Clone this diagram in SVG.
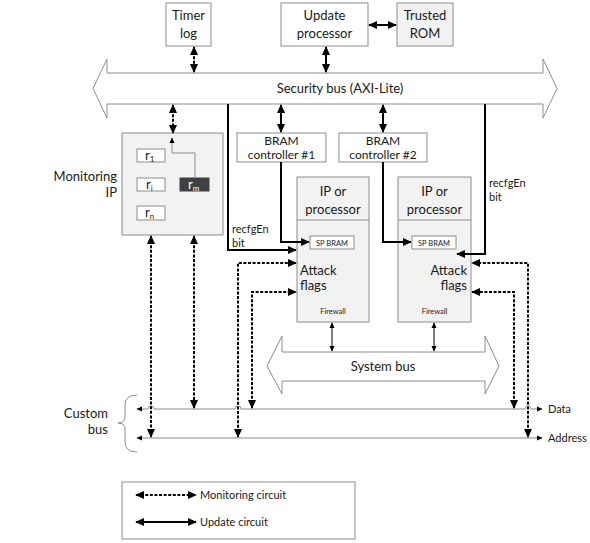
<svg xmlns="http://www.w3.org/2000/svg" width="590" height="543" viewBox="0 0 590 543">
<style>
text{font-family:Lato,"Open Sans","Liberation Sans",sans-serif;fill:#1a1a1a}
.t{font-size:13px}
.b{font-size:12px}
.s{font-size:11px}
.xs{font-size:7.5px}
.box{fill:#fff;stroke:#8c8c8c;stroke-width:1}
.gbox{fill:#f2f2f2;stroke:#8c8c8c;stroke-width:1}
.bus{fill:#fff;stroke:#8c8c8c;stroke-width:1}
.sol{fill:none;stroke:#000;stroke-width:2}
.dsh{fill:none;stroke:#000;stroke-width:2;stroke-dasharray:3 1.6}
.thin{fill:none;stroke:#000;stroke-width:1}
.gl{fill:none;stroke:#8c8c8c;stroke-width:1}
</style>
<defs>
<marker id="ah" viewBox="0 0 10 10" refX="9" refY="5" markerWidth="9" markerHeight="9" markerUnits="userSpaceOnUse" orient="auto-start-reverse"><path d="M0,0.5 L10,5 L0,9.5 z" fill="#000"/></marker>
<marker id="sm" viewBox="0 0 10 10" refX="9" refY="5" markerWidth="6" markerHeight="6" markerUnits="userSpaceOnUse" orient="auto-start-reverse"><path d="M0,0.5 L10,5 L0,9.5 z" fill="#000"/></marker>
</defs>

<g id="security-bus">
<polygon class="bus" points="93,88.5 107,59 107,73 543,73 543,59 557,88.5 543,118 543,104 107,104 107,118"/>
<text class="t" x="340" y="93" text-anchor="middle">Security bus (AXI-Lite)</text>
</g>
<g id="system-bus">
<polygon class="bus" points="267,366 282,336 282,352 485,352 485,336 499,366 485,394 485,381 282,381 282,394"/>
<text class="t" x="383" y="371" text-anchor="middle">System bus</text>
</g>

<g id="timer-log">
<rect class="box" x="166" y="3" width="45" height="43"/>
<text class="t" x="188.5" y="20" text-anchor="middle">Timer</text>
<text class="t" x="188.5" y="38" text-anchor="middle">log</text>
</g>
<g id="update-processor">
<rect class="box" x="281" y="3" width="87" height="43"/>
<text class="t" x="324.5" y="20" text-anchor="middle">Update</text>
<text class="t" x="324.5" y="38" text-anchor="middle">processor</text>
</g>
<g id="trusted-rom">
<rect class="gbox" x="397" y="3" width="56" height="43"/>
<text class="t" x="425" y="20" text-anchor="middle">Trusted</text>
<text class="t" x="425" y="38" text-anchor="middle">ROM</text>
</g>

<g id="monitoring-ip">
<rect class="gbox" x="122" y="133" width="101" height="102"/>
<text class="t" x="117" y="181" text-anchor="end">Monitoring</text>
<text class="t" x="117" y="197" text-anchor="end">IP</text>
<rect class="box" x="137" y="149" width="28" height="13"/>
<text class="t" x="145" y="160">r<tspan font-size="8" dy="2">1</tspan></text>
<rect class="box" x="137" y="178" width="28" height="13"/>
<text class="t" x="146" y="189">r<tspan font-size="8" dy="2">i</tspan></text>
<rect class="box" x="137" y="206" width="28" height="14"/>
<text class="t" x="145" y="217">r<tspan font-size="8" dy="2">n</tspan></text>
<rect x="180" y="178" width="29" height="13" fill="#404040" stroke="#404040"/>
<text class="t" x="188" y="189" style="fill:#fff">r<tspan font-size="8" dy="2" style="fill:#fff">m</tspan></text>
<path class="gl" d="M195,178 V153 H172 V138" marker-end="url(#sm)"/>
</g>

<g id="bram-controller-1">
<rect class="box" x="237" y="133" width="89" height="29"/>
<text class="b" x="281.5" y="145" text-anchor="middle">BRAM</text>
<text class="b" x="281.5" y="158.5" text-anchor="middle">controller #1</text>
</g>
<g id="bram-controller-2">
<rect class="box" x="339" y="133" width="88" height="29"/>
<text class="b" x="383" y="145" text-anchor="middle">BRAM</text>
<text class="b" x="383" y="158.5" text-anchor="middle">controller #2</text>
</g>

<g id="ip-processor-1">
<rect class="gbox" x="297" y="177" width="72" height="145"/>
<line class="gl" x1="297" y1="220" x2="369" y2="220"/>
<text class="t" x="333" y="196" text-anchor="middle">IP or</text>
<text class="t" x="333" y="214" text-anchor="middle">processor</text>
<rect class="box" x="310" y="236" width="44" height="13"/>
<text class="xs" x="332" y="245.5" text-anchor="middle">SP BRAM</text>
<text class="t" x="300" y="275">Attack</text>
<text class="t" x="300" y="290">flags</text>
<text class="xs" x="333" y="314" text-anchor="middle">Firewall</text>
</g>
<g id="ip-processor-2">
<rect class="gbox" x="398" y="177" width="73" height="145"/>
<line class="gl" x1="398" y1="220" x2="471" y2="220"/>
<text class="t" x="434.5" y="196" text-anchor="middle">IP or</text>
<text class="t" x="434.5" y="214" text-anchor="middle">processor</text>
<rect class="box" x="412" y="236" width="44" height="13"/>
<text class="xs" x="434" y="245.5" text-anchor="middle">SP BRAM</text>
<text class="t" x="467" y="275" text-anchor="end">Attack</text>
<text class="t" x="467" y="290" text-anchor="end">flags</text>
<text class="xs" x="434.5" y="314" text-anchor="middle">Firewall</text>
</g>

<g id="labels">
<text class="s" x="232" y="233">recfgEn</text>
<text class="s" x="232" y="247">bit</text>
<text class="s" x="489" y="187">recfgEn</text>
<text class="s" x="489" y="201">bit</text>
<text class="t" x="108" y="418" text-anchor="end">Custom</text>
<text class="t" x="108" y="434" text-anchor="end">bus</text>
<text class="s" x="548" y="413">Data</text>
<text class="s" x="548" y="442">Address</text>
</g>

<g id="connectors">
<path class="dsh" d="M194,47 V72" marker-start="url(#ah)" marker-end="url(#ah)"/>
<path class="sol" d="M326,47 V72" marker-start="url(#ah)" marker-end="url(#ah)"/>
<path class="sol" d="M369,25 H396" marker-start="url(#ah)" marker-end="url(#ah)"/>
<path class="dsh" d="M173,105 V133" marker-start="url(#ah)" marker-end="url(#ah)"/>
<path class="sol" d="M281,105 V132" marker-start="url(#ah)" marker-end="url(#ah)"/>
<path class="sol" d="M383,105 V132" marker-start="url(#ah)" marker-end="url(#ah)"/>
<path class="sol" d="M228,104 V250 H296" marker-end="url(#ah)"/>
<path class="sol" d="M485,104 V254 H457" marker-end="url(#ah)"/>
<path class="sol" d="M281,162 V242 H309" marker-end="url(#ah)"/>
<path class="sol" d="M383,162 V242 H411" marker-end="url(#ah)"/>
<path class="thin" d="M332,323 V351" marker-start="url(#sm)" marker-end="url(#sm)"/>
<path class="thin" d="M434,323 V351" marker-start="url(#sm)" marker-end="url(#sm)"/>
<path class="gl" d="M137,409 H148 a3,3 0 0 1 6,0 H235 a3,3 0 0 1 6,0 H525 a3,3 0 0 1 6,0 H542" marker-start="url(#sm)" marker-end="url(#sm)"/>
<path class="gl" d="M137,438 H542" marker-start="url(#sm)" marker-end="url(#sm)"/>
<path class="gl" d="M137,395 Q125,395 125,405 V417 Q125,423 118,423 Q125,423 125,429 V442 Q125,452 137,452"/>
<path class="dsh" d="M151,236 V437" marker-start="url(#ah)" marker-end="url(#ah)"/>
<path class="dsh" d="M194,236 V408" marker-start="url(#ah)" marker-end="url(#ah)"/>
<path class="dsh" d="M238,437 V263 H296" marker-start="url(#ah)" marker-end="url(#ah)"/>
<path class="dsh" d="M252,408 V292 H296" marker-start="url(#ah)" marker-end="url(#ah)"/>
<path class="dsh" d="M528,437 V263 H472" marker-start="url(#ah)" marker-end="url(#ah)"/>
<path class="dsh" d="M514,408 V292 H472" marker-start="url(#ah)" marker-end="url(#ah)"/>
</g>

<g id="legend">
<rect class="box" x="122" y="482" width="233" height="57"/>
<path class="dsh" d="M136,495 H196" marker-start="url(#ah)" marker-end="url(#ah)"/>
<text class="s" x="200" y="499">Monitoring circuit</text>
<path class="sol" d="M136,522 H196" marker-start="url(#ah)" marker-end="url(#ah)"/>
<text class="s" x="200" y="526">Update circuit</text>
</g>
</svg>
